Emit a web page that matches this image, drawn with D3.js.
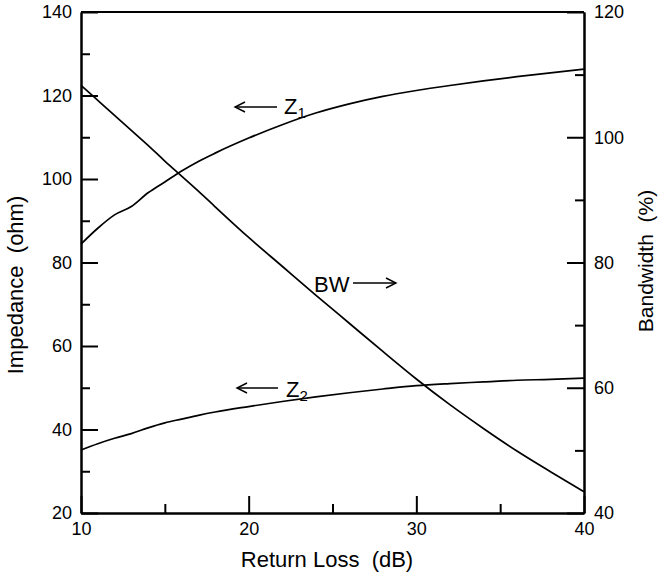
<!DOCTYPE html>
<html>
<head>
<meta charset="utf-8">
<script src="https://cdn.jsdelivr.net/npm/d3@7"></script>
<style>
  body { margin: 0; background: #fff; }
  svg { display: block; font-family: "Liberation Sans", Arial, sans-serif; }
  .axis path, .axis line { stroke: #000; stroke-width: 2; }
  .axis text { font-size: 18px; fill: #000; font-family: "Liberation Sans", Arial, sans-serif; }
</style>
</head>
<body>
<div id="chart"></div>
<script>
// return loss (dB)
const returnLoss = [10, 11, 12, 13, 14, 15, 16, 17, 18, 20, 22, 24, 26, 28, 30, 32, 34, 36, 38, 40];
// impedances (ohm), left axis
const z1 = [84.4, 88.2, 91.4, 93.4, 96.7, 99.3, 101.9, 104.2, 106.2, 109.8, 113.0, 115.8, 118.0, 119.8, 121.2, 122.4, 123.5, 124.5, 125.4, 126.3];
const z2 = [35.1, 36.6, 37.9, 39.0, 40.4, 41.6, 42.5, 43.4, 44.2, 45.5, 46.7, 47.8, 48.8, 49.7, 50.5, 51.0, 51.4, 51.8, 52.0, 52.3];
// bandwidth (%), right axis
const bandwidth = [108.3, 105.9, 103.5, 101.1, 98.7, 96.2, 93.8, 91.4, 88.9, 84.0, 79.4, 74.8, 70.3, 65.8, 61.4, 57.3, 53.5, 49.9, 46.6, 43.4];

const xTicks = [10, 20, 30, 40];
const xMinor = [15, 25, 35];
const yLeftTicks = [20, 40, 60, 80, 100, 120, 140];
const yLeftMinor = [30, 50, 70, 90, 110, 130];
const yRightTicks = [40, 60, 80, 100, 120];
const yRightMinor = [50, 70, 90, 110];

const W = 660, H = 576;
const margin = { top: 12, right: 76, bottom: 63, left: 81 };
const width = W - margin.left - margin.right;
const height = H - margin.top - margin.bottom;

const svg = d3.select("#chart").append("svg").attr("width", W).attr("height", H);
const g = svg.append("g").attr("transform", `translate(${margin.left},${margin.top})`);

const x = d3.scaleLinear().domain([10, 40]).range([0, width]);
const yL = d3.scaleLinear().domain([20, 140]).range([height, 0]);
const yR = d3.scaleLinear().domain([40, 120]).range([height, 0]);

// frame top
g.append("line").attr("x1", 0).attr("x2", width).attr("y1", 0).attr("y2", 0)
  .attr("stroke", "#000").attr("stroke-width", 2);

// axes, ticks pointing inward
g.append("g").attr("class", "axis")
  .attr("transform", `translate(0,${height})`)
  .call(d3.axisBottom(x).tickValues(xTicks).tickSize(-17).tickSizeOuter(0).tickPadding(9));
g.append("g").attr("class", "axis")
  .attr("transform", `translate(0,${height})`)
  .call(d3.axisBottom(x).tickValues(xMinor).tickSize(-9).tickSizeOuter(0).tickFormat(""));

g.append("g").attr("class", "axis")
  .call(d3.axisLeft(yL).tickValues(yLeftTicks).tickSize(-17).tickSizeOuter(0).tickPadding(9));
g.append("g").attr("class", "axis")
  .call(d3.axisLeft(yL).tickValues(yLeftMinor).tickSize(-9).tickSizeOuter(0).tickFormat(""));

g.append("g").attr("class", "axis")
  .attr("transform", `translate(${width},0)`)
  .call(d3.axisRight(yR).tickValues(yRightTicks).tickSize(-17).tickSizeOuter(0).tickPadding(10));
g.append("g").attr("class", "axis")
  .attr("transform", `translate(${width},0)`)
  .call(d3.axisRight(yR).tickValues(yRightMinor).tickSize(-9).tickSizeOuter(0).tickFormat(""));

// curves
const lineL = d3.line().x((d, i) => x(returnLoss[i])).y(d => yL(d)).curve(d3.curveMonotoneX);
const lineR = d3.line().x((d, i) => x(returnLoss[i])).y(d => yR(d)).curve(d3.curveMonotoneX);

[[z1, lineL], [z2, lineL], [bandwidth, lineR]].forEach(([data, gen]) => {
  g.append("path").datum(data)
    .attr("d", gen)
    .attr("fill", "none")
    .attr("stroke", "#000")
    .attr("stroke-width", 1.7);
});

// annotations
function arrow(x1, x2, y) {
  const dir = x2 > x1 ? -1 : 1;
  svg.append("line").attr("x1", x1).attr("x2", x2).attr("y1", y).attr("y2", y)
    .attr("stroke", "#000").attr("stroke-width", 1.4);
  svg.append("path")
    .attr("d", `M${x2 + dir * 10},${y - 5}L${x2},${y}L${x2 + dir * 10},${y + 5}`)
    .attr("fill", "none").attr("stroke", "#000").attr("stroke-width", 1.4);
}

function label(xp, yp, main, sub, size) {
  const t = svg.append("text").attr("x", xp).attr("y", yp)
    .attr("font-size", size).attr("fill", "#000");
  t.append("tspan").text(main);
  if (sub) t.append("tspan").attr("font-size", size * 0.68).attr("dy", 4).text(sub);
}

arrow(277, 235, 107);
label(284, 114, "Z", "1", 22);

label(314, 292, "BW", null, 22);
arrow(353, 396, 283);

arrow(278, 237, 388);
label(286, 397, "Z", "2", 22);

// axis titles
svg.append("text")
  .attr("x", 327)
  .attr("y", 567)
  .attr("text-anchor", "middle")
  .attr("font-size", 22)
  .style("white-space", "pre")
  .text("Return Loss  (dB)");

svg.append("text")
  .attr("transform", "translate(23,285) rotate(-90)")
  .attr("text-anchor", "middle")
  .attr("font-size", 22)
  .style("white-space", "pre")
  .text("Impedance  (ohm)");

svg.append("text")
  .attr("transform", "translate(653,261) rotate(-90)")
  .attr("text-anchor", "middle")
  .attr("font-size", 21)
  .style("white-space", "pre")
  .text("Bandwidth  (%)");
</script>
</body>
</html>
